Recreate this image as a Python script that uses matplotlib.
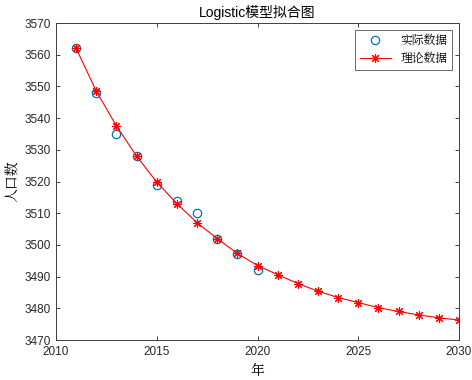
import matplotlib
matplotlib.use("Agg")
import matplotlib.pyplot as plt

plt.rcParams['font.family'] = ['Liberation Sans', 'Noto Sans CJK SC', 'DejaVu Sans']

years_actual = [2011, 2012, 2013, 2014, 2015, 2016, 2017, 2018, 2019, 2020]
pop_actual = [3562, 3548, 3535, 3528, 3519, 3514, 3510, 3502, 3497, 3492]

years_fit = list(range(2011, 2031))
pop_fit = [3562, 3548.5, 3537.5, 3528, 3519.8, 3513, 3507, 3502, 3497.3, 3493.5,
           3490.6, 3487.8, 3485.4, 3483.4, 3481.8, 3480.2, 3479.0, 3477.9, 3477.0, 3476.3]

xticks = [2010, 2015, 2020, 2025, 2030]
yticks = list(range(3470, 3571, 10))

fig = plt.figure(figsize=(4.72, 3.80), dpi=100)
ax = fig.add_axes([56/472, 1-340/380, (459-56)/472, (340-23)/380])

ax.plot(years_actual, pop_actual, 'o', mfc='none', mec='#0072BD', ms=6, mew=0.9, label='实际数据')
ax.plot(years_fit, pop_fit, '-', marker=(8, 2, 0), color='#FF0000', lw=0.8, ms=6.5, mew=0.8, label='理论数据')

ax.set_xlim(2010, 2030)
ax.set_ylim(3470, 3570)
ax.set_xticks(xticks)
ax.set_yticks(yticks)
ax.tick_params(direction='in', length=3, width=0.6, labelsize=8.5, pad=4, top=True, right=True, colors='#262626')
for s in ax.spines.values():
    s.set_linewidth(0.7)
    s.set_color('#404040')

ax.set_title('Logistic模型拟合图', fontsize=10, pad=4)
ax.set_xlabel('年', fontsize=10, family=['Noto Serif CJK SC', 'Noto Sans CJK SC'])
ax.set_ylabel('人口数', fontsize=10, labelpad=2, family=['Noto Serif CJK SC', 'Noto Sans CJK SC'])

leg = ax.legend(loc='upper right', fontsize=8.5, frameon=True, fancybox=False,
                edgecolor='#262626', borderaxespad=0.6, handlelength=2.6,
                prop={'family': ['Noto Serif CJK SC', 'Noto Sans CJK SC'], 'size': 8.5})
leg.get_frame().set_linewidth(0.6)

fig.savefig('out.png', dpi=100)
